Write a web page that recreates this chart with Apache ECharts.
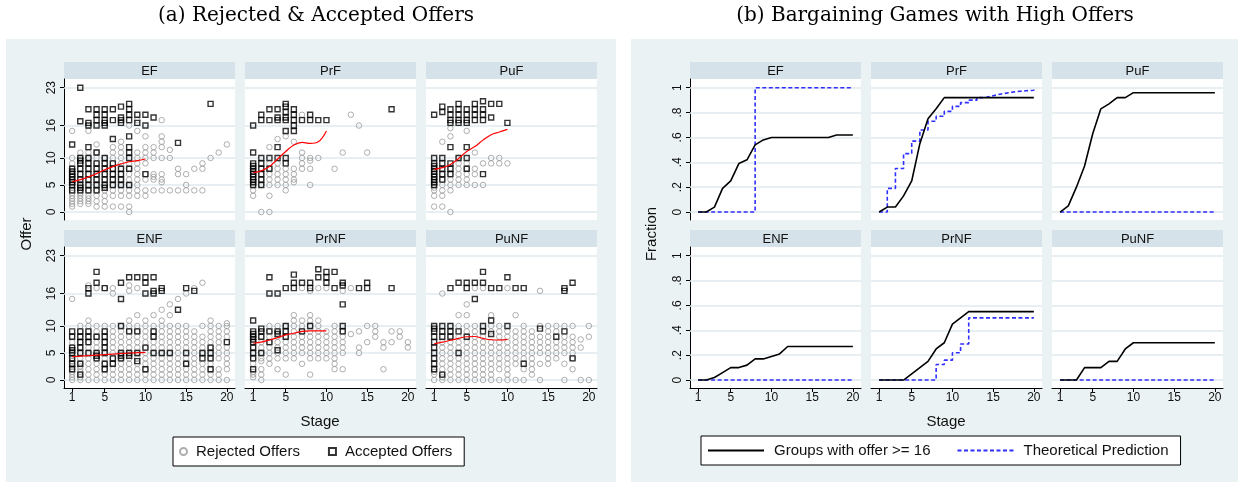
<!DOCTYPE html>
<html><head><meta charset="utf-8">
<script src="https://cdn.jsdelivr.net/npm/echarts@6/dist/echarts.min.js"></script>
<style>html,body{margin:0;padding:0;background:#fff}#c{width:1244px;height:487px}</style>
</head><body><div id="c"></div>
<script>
// ---------------- DATA ----------------
const treatments = ['EF', 'PrF', 'PuF', 'ENF', 'PrNF', 'PuNF'];
const stages = [1,2,3,4,5,6,7,8,9,10,11,12,13,14,15,16,17,18,19,20];
const fitStages = [1,2,3,4,5,6,7,8,9,10];
const offerTicks = [0, 5, 10, 16, 23];
const fracTicks = [0, 0.2, 0.4, 0.6, 0.8, 1];
const stageTicks = [1, 5, 10, 15, 20];

// Rejected offers: [stage, [offers]]
const EF_rej = [[1,[1,1.5,2,2.5,3,3.5,4,4.5,5,5.5,6,6.5,7,7.5,8,9,10,15]],[2,[1.5,2,2.5,3,3.5,4,5,6,7,8,9,10,11]],[3,[1.5,2,2.5,3,4,5,6,7,8,9,10,11,15]],[4,[1,2,3,4,5,6,7,8,9,10,11,12.5]],[5,[1,2,3,4,5,6,7,8,9,10]],[6,[1,3,4,5,6,7,8,9,10,11,12]],[7,[1,3,4,5,6,7,8,9,10,11,12,13]],[8,[0,1,3,4,5,6,7,8,9,16]],[9,[3,4,5,6,7,8,9,10,11,15,17]],[10,[3,4,6,7,9,10,11,12,14]],[11,[4,6,6.5,7,10,11,12]],[12,[4,5.5,6,7,10,12,13,14,17]],[13,[4,10,11.5]],[14,[4,7,8]],[15,[4,5,7]],[16,[4,8]],[17,[4,8,9]],[18,[10]],[19,[11]],[20,[12.5]]];
const PrF_rej = [[1,[3,4,5,6,7]],[2,[0,5,6,7,8]],[3,[0,3,5,6,7,8,9,12]],[4,[5,6,7,8,9,13.5]],[5,[4,5,6,7,8,14]],[6,[5.5,6,7,8,13]],[7,[8,9,10,11,18]],[8,[5,8,9.5,10]],[9,[10]],[11,[8]],[12,[11]],[13,[18]],[14,[16]],[15,[11]]];
const PuF_rej = [[1,[1,3,4,4.5,5,5.5,6,6.5,7]],[2,[1,3,4,5,6,7,13]],[3,[0,4,5,6,7,8,14,15.5]],[4,[5,6,7,8,9,10]],[5,[5,6,7,8,9,15]],[6,[5,7,8,11]],[7,[5,9]],[8,[9,10]],[9,[9,10]],[10,[9]]];
const ENF_rej = [[1,[0,0.5,1,1.5,2,2.5,3,3.5,4,4.5,5,6,7,8,15]],[2,[0,0.5,1,1.5,2,2.5,3,4,5,6,7,8,9,10]],[3,[0,1,2,3,4,5,6,7,8,9,10,11,17.5]],[4,[0,1,2,3,4,5,6,7,8,9,10,17]],[5,[0,1,2,3,4,5,6,7,8,9,10,17]],[6,[0,1,2,3,4,5,6,7,8,9,10,16,17]],[7,[0,1,2,3,4,5,6,7,8,9,10]],[8,[0,1,2,3,4,5,6,7,8,9,10,11,16.5,17.5]],[9,[0,1,2,3,4,5,6,7,8,9,10,12,17]],[10,[0,1,2,3,4,5,6,7,8,9,10,11]],[11,[0,1,2,3,4,5,6,7,8,9,10,12]],[12,[0,1,2,3,4,5,6,7,8,9,10,11,13]],[13,[0,1,2,3,4,5,6,7,8,9,10,12,14]],[14,[0,1,2,3,4,5,6,7,8,9,10,15]],[15,[0,1,2,3,4,6,7,8,9,10,16]],[16,[0,1,2,3,4,5,6,7,8,9,17]],[17,[0,1,2,3,5,6,7,8,10,18]],[18,[0,1,2,3,4,5,6,7,8,9,10,11]],[19,[0,1,2,4,5,6,7,8,9,10]],[20,[0,2,3,4,5,6,8,9,10,10.5]]];
const PrNF_rej = [[1,[0.5,1,1.5,3,4,5,6,7,8]],[2,[0,1,2,3.5,4,5,6,7,8,9]],[3,[3,4,5,6,7,8,9,10]],[4,[2,4,5,6,7,8,9,10]],[5,[1,4,5,6,7,8,9,10]],[6,[4,5,6,7,8,9,10,11,12]],[7,[3,5,6,7,8,9,10,11,17]],[8,[1,4,5,6,7,8,9,10,11,12,16.5]],[9,[4,5,6,7,8,9,10,11,17]],[10,[4,5,6,7,8,9,17]],[11,[2,3,4,5,6,7,8,9,10]],[12,[2,5,6,7,8,9,16.5]],[13,[8.5,17]],[14,[5,6,9]],[15,[7,10]],[16,[8,9,10]],[17,[2,6,7]],[18,[7,9]],[19,[8,9]],[20,[6,7]]];
const PuNF_rej = [[1,[0,1,1.5,2]],[2,[0,0.5,1,2,3,4,5,6,7,16]],[3,[0,1,2,3,4,5,6,7,8,9,10]],[4,[0,1,2,3,4,6,7,8,10,12]],[5,[0,1,2,3,4,5,6,7,9,10,12,14]],[6,[0,1,2,3,4,5,6,7,8,9,10,17]],[7,[0,1,2,3,4,5,6,7,8,17]],[8,[0,1,2,3,4,5,6,7,9,10,12]],[9,[0,2,3,4,5,6,7,8,9,10]],[10,[0,1,2,3,4,5,6,7,8,9,17]],[11,[0,3,4,5,6,7,8,9,12]],[12,[0,2,4,5,6,7,8,9,10]],[13,[1,2,3,4,5,6,7,8,9]],[14,[0,3,5,6,7,8,10,16.5]],[15,[3,4,5,6,7,8,9,10]],[16,[4,5,6,7,9,10]],[17,[0,3,5,6,7,8,10]],[18,[2,4,5,6,7,8,10]],[19,[0,6,7.5]],[20,[0,8,10]]];

// Accepted offers: [stage, [offers]]
const EF_acc = [[1,[4,5,5.5,6,6.5,7,7.5,8,12.5]],[2,[4,4.5,5,6,7,8,9,9.5,10,16.8,23]],[3,[4,5,6,7,8,9,10,12,16,16.5,19]],[4,[4,5,6,7,8,9,11,16,17,18,19]],[5,[4.5,5,6,7,8,9,10,16,16.5,17,18,19]],[6,[5,6,7,8,9,13.5,17,19]],[7,[5,6,7,8,16.5,17,17.5,19.5]],[8,[5,8,10,11,12,14,17,18,19,20]],[9,[16.5,18]],[10,[7,16,18]],[11,[17.5]],[14,[12.8]],[18,[20]]];
const PrF_acc = [[1,[5,5.5,6,6.5,7,7.5,8,8.5,9,11,16]],[2,[5,6,7,8,9,10,17,18]],[3,[8,10,17,19]],[4,[10,12,17,17.5,19]],[5,[9,10,15,17,17.5,18.5,19.5,20]],[6,[15,16,17,18,19]],[7,[17]],[8,[17,18]],[9,[17]],[10,[17]],[18,[19]]];
const PuF_acc = [[1,[5,5.5,6,6.5,7,7.5,8,8.5,9,10,18]],[2,[6,7,8,9,10,18.5,19.5]],[3,[7,8,9,12,16.5,17,18,19]],[4,[10,16.5,17,18,19,20]],[5,[8,10,12,16.5,17,18,19]],[6,[17,18,19,20]],[7,[7,17,18,19,20.5]],[8,[17.5,20]],[9,[20]],[10,[16.5]]];
const ENF_acc = [[1,[2,3,4,5,5.5,6,8,9]],[2,[1,3,5,6,7,8,9]],[3,[5,7,8,9,16,17]],[4,[4,4.5,5,8,18,20]],[5,[2,3,5,6,7,8,9,17]],[6,[3,4]],[7,[4,4.5,5,10,15,18]],[8,[4.5,5,9,19]],[9,[3.5,5,9,19]],[10,[2,6,16,18,19]],[11,[5,8,9,16,16.5,19]],[12,[5,16.5,17]],[13,[5]],[14,[13]],[15,[3,5,17]],[16,[16.5]],[17,[4,5]],[18,[2,4,5,6]],[20,[7]]];
const PrNF_acc = [[1,[2,4,5,6,7,7.5,8,8.5,9,11]],[2,[5,8,9,9.5]],[3,[7,9,16,19]],[4,[5.5,8.5,9,16]],[5,[8,9,10,17]],[6,[17,18,19.5]],[7,[9,18]],[8,[10,17,18]],[9,[19,20.5]],[10,[18,19,20]],[11,[17,20]],[12,[9,10,14,17.5,18]],[14,[17]],[15,[17,18]],[18,[17]]];
const PuNF_acc = [[1,[2,3,4,5,6,7,8,9,9.5,10]],[2,[1,8,9,10]],[3,[8,9,10,17]],[4,[5,9,18]],[5,[8,17,18]],[6,[15,18]],[7,[9,10,18,20]],[8,[8.5,11,17]],[9,[17]],[10,[10,19]],[11,[17]],[12,[3,17]],[14,[9.5]],[16,[8]],[17,[9,16.5,17]],[18,[4,18]]];

// Smoothed (lowess) offer, stages 1-10
const EF_fit = [5.6,6.0,6.5,7.1,7.8,8.4,8.9,9.3,9.5,9.8];
const PrF_fit = [7.3,7.6,8.4,9.8,11.2,12.4,12.9,12.7,13.0,15.0];
const PuF_fit = [7.9,8.2,8.8,9.9,11.2,12.1,13.3,14.3,14.8,15.3];
const ENF_fit = [4.3,4.4,4.5,4.6,4.7,4.8,4.9,5.0,5.05,5.1];
const PrNF_fit = [6.8,7.0,7.4,7.85,8.35,8.65,9.0,9.1,9.1,9.1];
const PuNF_fit = [6.7,7.0,7.35,7.7,8.0,8.05,7.7,7.45,7.4,7.5];

// Fraction of groups with offer >= 16, stages 1-20
const EF_frac = [0,0,0.04,0.19,0.25,0.39,0.42,0.54,0.58,0.60,0.60,0.60,0.60,0.60,0.60,0.60,0.60,0.62,0.62,0.62];
const PrF_frac = [0,0.04,0.04,0.13,0.25,0.55,0.75,0.83,0.92,0.92,0.92,0.92,0.92,0.92,0.92,0.92,0.92,0.92,0.92,0.92];
const PuF_frac = [0,0.05,0.2,0.37,0.63,0.83,0.87,0.92,0.92,0.96,0.96,0.96,0.96,0.96,0.96,0.96,0.96,0.96,0.96,0.96];
const ENF_frac = [0,0,0.02,0.06,0.1,0.1,0.12,0.17,0.17,0.19,0.21,0.27,0.27,0.27,0.27,0.27,0.27,0.27,0.27,0.27];
const PrNF_frac = [0,0,0,0,0.05,0.1,0.15,0.25,0.3,0.45,0.5,0.55,0.55,0.55,0.55,0.55,0.55,0.55,0.55,0.55];
const PuNF_frac = [0,0,0,0.1,0.1,0.1,0.15,0.15,0.25,0.3,0.3,0.3,0.3,0.3,0.3,0.3,0.3,0.3,0.3,0.3];

// Theoretical prediction, stages 1-20
const EF_theory = [0,0,0,0,0,0,0,1,1,1,1,1,1,1,1,1,1,1,1,1];
const PrF_theory = [0,0.19,0.35,0.47,0.57,0.66,0.73,0.77,0.81,0.85,0.88,0.90,0.92,0.935,0.95,0.96,0.97,0.975,0.98,0.99];
const PuF_theory = [0,0,0,0,0,0,0,0,0,0,0,0,0,0,0,0,0,0,0,0];
const ENF_theory = [0,0,0,0,0,0,0,0,0,0,0,0,0,0,0,0,0,0,0,0];
const PrNF_theory = [0,0,0,0,0,0,0,0.125,0.16,0.22,0.29,0.5,0.5,0.5,0.5,0.5,0.5,0.5,0.5,0.5];
const PuNF_theory = [0,0,0,0,0,0,0,0,0,0,0,0,0,0,0,0,0,0,0,0];

// ---------------- BUILD ----------------
const rej = {EF:EF_rej, PrF:PrF_rej, PuF:PuF_rej, ENF:ENF_rej, PrNF:PrNF_rej, PuNF:PuNF_rej};
const acc = {EF:EF_acc, PrF:PrF_acc, PuF:PuF_acc, ENF:ENF_acc, PrNF:PrNF_acc, PuNF:PuNF_acc};
const fit = {EF:EF_fit, PrF:PrF_fit, PuF:PuF_fit, ENF:ENF_fit, PrNF:PrNF_fit, PuNF:PuNF_fit};
const frac = {EF:EF_frac, PrF:PrF_frac, PuF:PuF_frac, ENF:ENF_frac, PrNF:PrNF_frac, PuNF:PuNF_frac};
const theory = {EF:EF_theory, PrF:PrF_theory, PuF:PuF_theory, ENF:ENF_theory, PrNF:PrNF_theory, PuNF:PuNF_theory};

function expand(cols){ const out=[]; cols.forEach(([s,vals])=>vals.forEach(v=>out.push([s,v]))); return out; }
function pairs(xs, ys){ return xs.map((x,i)=>[x, ys[i]]); }

const FONT = 'Liberation Sans, Arial, sans-serif';
const TXT = '#111';
const BG = '#eaf2f3';
const STRIP = '#d6e2e9';
const GRIDC = '#e1eaee';
const BLUE = '#2f2fff';
const COLS_A = [64, 245, 426], COLS_B = [690, 871, 1052];
const COLW = 171, PLOTH = 141;
const ROW_TOP = [79, 247], STRIP_TOP = [62, 230], STRIPH = 17;

const grids = [], xAxes = [], yAxes = [], series = [], graphics = [];

graphics.push({type:'rect', shape:{x:6, y:39, width:610, height:443}, style:{fill:BG}, z:-10});
graphics.push({type:'rect', shape:{x:631, y:39, width:607, height:443}, style:{fill:BG}, z:-10});
graphics.push({type:'text', x:316, y:16, style:{text:'(a) Rejected & Accepted Offers', fontFamily:'DejaVu Serif', fontSize:20, fill:'#000', textAlign:'center', textVerticalAlign:'middle'}});
graphics.push({type:'text', x:935, y:16, style:{text:'(b) Bargaining Games with High Offers', fontFamily:'DejaVu Serif', fontSize:20, fill:'#000', textAlign:'center', textVerticalAlign:'middle'}});
graphics.push({type:'text', x:27, y:234, rotation:Math.PI/2, style:{text:'Offer', fontFamily:FONT, fontSize:15, fill:TXT, textAlign:'center', textVerticalAlign:'middle'}});
graphics.push({type:'text', x:652, y:234, rotation:Math.PI/2, style:{text:'Fraction', fontFamily:FONT, fontSize:15, fill:TXT, textAlign:'center', textVerticalAlign:'middle'}});
graphics.push({type:'text', x:320, y:422, style:{text:'Stage', fontFamily:FONT, fontSize:15, fill:TXT, textAlign:'center', textVerticalAlign:'middle'}});
graphics.push({type:'text', x:946, y:422, style:{text:'Stage', fontFamily:FONT, fontSize:15, fill:TXT, textAlign:'center', textVerticalAlign:'middle'}});

function addPanel(side){
  const cols = side === 'A' ? COLS_A : COLS_B;
  treatments.forEach((t, k) => {
    const row = k < 3 ? 0 : 1, col = k % 3;
    const gi = grids.length;
    const x0 = cols[col];
    grids.push({left:x0, top:ROW_TOP[row], width:COLW, height:PLOTH, show:true, backgroundColor:'#fff', borderWidth:0, containLabel:false});
    graphics.push({type:'rect', shape:{x:x0, y:STRIP_TOP[row], width:COLW, height:STRIPH}, style:{fill:STRIP}});
    graphics.push({type:'text', x:x0+COLW/2, y:STRIP_TOP[row]+STRIPH/2+0.5, style:{text:t, fontFamily:FONT, fontSize:13, fill:TXT, textAlign:'center', textVerticalAlign:'middle'}});
    const bottom = row === 1, first = col === 0;
    xAxes.push({gridIndex:gi, type:'value', min:0, max:21,
      axisLine:{show:bottom, onZero:false, lineStyle:{color:'#000', width:1}},
      axisTick:{show:bottom, customValues:stageTicks, length:4, lineStyle:{color:'#000', width:1}},
      axisLabel:{show:bottom, customValues:stageTicks, margin:4, fontSize:12, color:TXT, fontFamily:FONT},
      splitLine:{show:false}});
    const ticks = side === 'A' ? offerTicks : fracTicks;
    yAxes.push({gridIndex:gi, type:'value',
      min: side === 'A' ? -1.48 : -0.064, max: side === 'A' ? 24.61 : 1.07,
      axisLine:{show:first, onZero:false, lineStyle:{color:'#000', width:1}},
      axisTick:{show:first, customValues:ticks, length:4, lineStyle:{color:'#000', width:1}},
      axisLabel:{show:first, customValues:ticks, rotate:90, margin:6, fontSize:12, color:TXT, fontFamily:FONT,
        formatter: v => side === 'A' ? String(v) : (v === 0 ? '0' : v === 1 ? '1' : String(+v.toFixed(1)).replace(/^0/, ''))},
      splitLine:{show:false}});
    const gridLines = {silent:true, z:1, symbol:['none','none'], label:{show:false}, emphasis:{disabled:true},
      lineStyle:{color:GRIDC, width:1.5, type:'solid'}, data: ticks.map(v => ({yAxis:v}))};
    if (side === 'A') {
      series.push({type:'scatter', name:'Rejected Offers', xAxisIndex:gi, yAxisIndex:gi, z:3, symbol:'circle', symbolSize:5.5,
        itemStyle:{color:'rgba(255,255,255,0)', borderColor:'#9a9a9a', borderWidth:1}, data: expand(rej[t]), markLine: gridLines, silent:true});
      series.push({type:'scatter', name:'Accepted Offers', xAxisIndex:gi, yAxisIndex:gi, z:4, symbol:'rect', symbolSize:5,
        itemStyle:{color:'rgba(255,255,255,0)', borderColor:'#000', borderWidth:1.4}, data: expand(acc[t]), silent:true});
      series.push({type:'line', name:'fit', xAxisIndex:gi, yAxisIndex:gi, z:5, symbol:'none', smooth:0.4,
        lineStyle:{color:'#ff0000', width:1.2}, data: pairs(fitStages, fit[t]), silent:true});
    } else {
      series.push({type:'line', name:'Groups with offer >= 16', xAxisIndex:gi, yAxisIndex:gi, z:4, symbol:'none',
        lineStyle:{color:'#000', width:1.6}, itemStyle:{color:'#000'}, data: pairs(stages, frac[t]), markLine: gridLines, silent:true});
      series.push({type:'line', name:'Theoretical Prediction', xAxisIndex:gi, yAxisIndex:gi, z:3, symbol:'none', step:'end',
        lineStyle:{color:BLUE, width:1.6, type:[4,2.5]}, itemStyle:{color:BLUE}, data: pairs(stages, theory[t]), silent:true});
    }
  });
}
addPanel('A');
addPanel('B');

const option = {
  animation:false,
  backgroundColor:'#fff',
  grid: grids, xAxis: xAxes, yAxis: yAxes, series: series, graphic: graphics,
  legend:[
    {data:['Rejected Offers','Accepted Offers'], left:173, top:437, orient:'horizontal',
     backgroundColor:'#fff', borderColor:'#000', borderWidth:1, borderRadius:0, padding:[7,12,7,6],
     itemWidth:7, itemHeight:7, itemGap:28, selectedMode:false,
     textStyle:{fontSize:15, fontFamily:FONT, color:TXT, padding:[0,0,0,4]}},
    {data:['Groups with offer >= 16','Theoretical Prediction'], left:701, top:436, orient:'horizontal',
     backgroundColor:'#fff', borderColor:'#000', borderWidth:1, borderRadius:0, padding:[7,12,7,6],
     itemWidth:56, itemHeight:14, itemGap:26, selectedMode:false,
     itemStyle:{opacity:0},
     textStyle:{fontSize:15, fontFamily:FONT, color:TXT, padding:[0,0,0,5]}}
  ]
};
const chart = echarts.init(document.getElementById('c'), null, {renderer:'canvas'});
chart.setOption(option);
</script></body></html>
